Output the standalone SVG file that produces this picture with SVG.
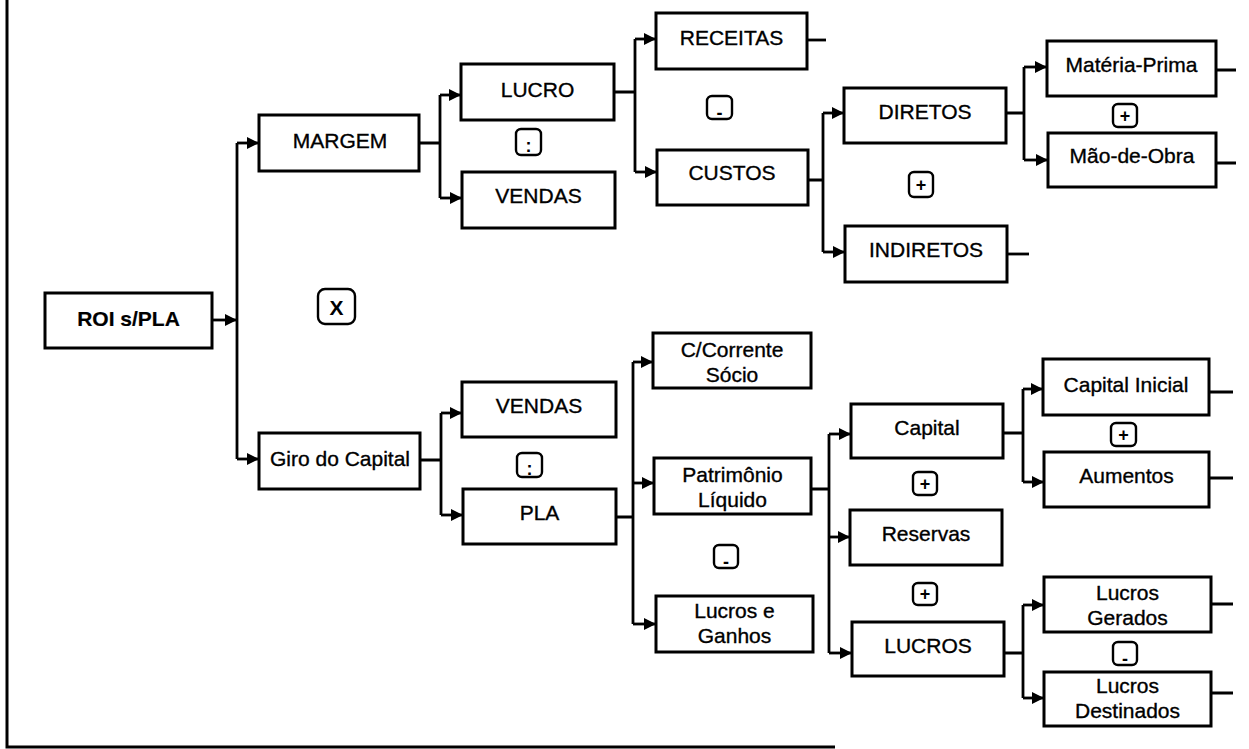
<svg xmlns="http://www.w3.org/2000/svg" width="1249" height="749" viewBox="0 0 1249 749">
<style>
.box{fill:#fff;stroke:#000;stroke-width:3}
.sym{fill:#fff;stroke:#000;stroke-width:2.4}
.t{font-family:"Liberation Sans",Arial,sans-serif;font-size:21px;fill:#000;stroke:#000;stroke-width:0.35;text-anchor:middle}
.b{font-weight:bold;stroke-width:0.2}
.s{font-family:"Liberation Sans",Arial,sans-serif;font-size:18px;font-weight:bold;fill:#000;text-anchor:middle}
.c{fill:none;stroke:#000;stroke-width:2.8}
.a{fill:none;stroke:#000;stroke-width:2.8;marker-end:url(#ah)}
</style>
<defs>
<marker id="ah" markerUnits="userSpaceOnUse" markerWidth="13" markerHeight="13" refX="12" refY="6.5" orient="auto">
<path d="M0,0.5 L12,6.5 L0,12.5 z" fill="#000"/>
</marker>
</defs>
<rect width="1249" height="749" fill="#fff"/>
<path d="M7,0 V747 H835" fill="none" stroke="#000" stroke-width="3"/>

<g id="connectors">
<path class="a" d="M212,320 H237"/>
<path class="c" d="M237,143 V459"/>
<path class="a" d="M237,143 H259"/>
<path class="a" d="M237,459 H259"/>

<path class="c" d="M419,143 H440 M440,95 V198"/>
<path class="a" d="M440,95 H461"/>
<path class="a" d="M440,198 H462"/>

<path class="c" d="M614,92 H635 M635,39 V172"/>
<path class="a" d="M635,39 H656"/>
<path class="a" d="M635,172 H657"/>
<path class="c" d="M807,40 H826"/>

<path class="c" d="M808,180 H823 M823,113 V252"/>
<path class="a" d="M823,113 H844"/>
<path class="a" d="M823,252 H845"/>
<path class="c" d="M1007,254 H1029"/>

<path class="c" d="M1006,113 H1024 M1024,67 V160"/>
<path class="a" d="M1024,67 H1047"/>
<path class="a" d="M1024,160 H1048"/>
<path class="c" d="M1216,70 H1236 M1216,163 H1236"/>

<path class="c" d="M420,460 H441 M441,413 V515"/>
<path class="a" d="M441,413 H462"/>
<path class="a" d="M441,515 H463"/>

<path class="c" d="M616,517 H633 M633,362 V624"/>
<path class="a" d="M633,362 H653"/>
<path class="a" d="M633,483 H654"/>
<path class="a" d="M633,624 H656"/>

<path class="c" d="M811,489 H829 M829,434 V653"/>
<path class="a" d="M829,434 H851"/>
<path class="a" d="M829,537 H850"/>
<path class="a" d="M829,653 H852"/>

<path class="c" d="M1003,433 H1023 M1023,389 V482"/>
<path class="a" d="M1023,389 H1043"/>
<path class="a" d="M1023,482 H1044"/>
<path class="c" d="M1209,392 H1233 M1209,478 H1233"/>

<path class="c" d="M1004,653 H1023 M1023,605 V698"/>
<path class="a" d="M1023,605 H1044"/>
<path class="a" d="M1023,698 H1044"/>
<path class="c" d="M1211,604 H1233 M1211,693 H1233"/>
</g>

<g id="roi"><rect class="box" x="45" y="293" width="167" height="55"/><text class="t b" x="128.5" y="326">ROI s/PLA</text></g>
<g id="margem"><rect class="box" x="259" y="115" width="160" height="56"/><text class="t" x="340" y="148">MARGEM</text></g>
<g id="giro"><rect class="box" x="259" y="433" width="161" height="56"/><text class="t" x="340" y="466">Giro do Capital</text></g>
<g id="lucro"><rect class="box" x="461" y="64" width="153" height="56"/><text class="t" x="537.5" y="97">LUCRO</text></g>
<g id="vendas1"><rect class="box" x="462" y="172" width="153" height="56"/><text class="t" x="538.5" y="203">VENDAS</text></g>
<g id="receitas"><rect class="box" x="656" y="13" width="151" height="56"/><text class="t" x="731.5" y="45">RECEITAS</text></g>
<g id="custos"><rect class="box" x="657" y="150" width="151" height="55"/><text class="t" x="732" y="180">CUSTOS</text></g>
<g id="diretos"><rect class="box" x="844" y="88" width="162" height="55"/><text class="t" x="925" y="119">DIRETOS</text></g>
<g id="indiretos"><rect class="box" x="845" y="226" width="162" height="56"/><text class="t" x="926" y="257">INDIRETOS</text></g>
<g id="materia-prima"><rect class="box" x="1047" y="41" width="169" height="55"/><text class="t" x="1131.5" y="72">Matéria-Prima</text></g>
<g id="mao-de-obra"><rect class="box" x="1048" y="133" width="168" height="54"/><text class="t" x="1132" y="163">Mão-de-Obra</text></g>
<g id="vendas2"><rect class="box" x="462" y="382" width="154" height="55"/><text class="t" x="539" y="413">VENDAS</text></g>
<g id="pla"><rect class="box" x="463" y="489" width="153" height="55"/><text class="t" x="539.5" y="520">PLA</text></g>
<g id="ccorrente"><rect class="box" x="653" y="333" width="158" height="55"/><text class="t" x="732" y="357">C/Corrente</text><text class="t" x="732" y="382">Sócio</text></g>
<g id="patrimonio"><rect class="box" x="654" y="458" width="157" height="56"/><text class="t" x="732.5" y="482">Patrimônio</text><text class="t" x="732.5" y="507">Líquido</text></g>
<g id="lucros-ganhos"><rect class="box" x="656" y="596" width="157" height="56"/><text class="t" x="734.5" y="618">Lucros e</text><text class="t" x="734.5" y="643">Ganhos</text></g>
<g id="capital"><rect class="box" x="851" y="404" width="152" height="54"/><text class="t" x="927" y="435">Capital</text></g>
<g id="reservas"><rect class="box" x="850" y="510" width="152" height="55"/><text class="t" x="926" y="541">Reservas</text></g>
<g id="lucros"><rect class="box" x="852" y="622" width="152" height="54"/><text class="t" x="928" y="653">LUCROS</text></g>
<g id="capital-inicial"><rect class="box" x="1043" y="359" width="166" height="56"/><text class="t" x="1126" y="392">Capital Inicial</text></g>
<g id="aumentos"><rect class="box" x="1044" y="452" width="165" height="55"/><text class="t" x="1126.5" y="483">Aumentos</text></g>
<g id="lucros-gerados"><rect class="box" x="1044" y="577" width="167" height="55"/><text class="t" x="1127.5" y="600">Lucros</text><text class="t" x="1127.5" y="625">Gerados</text></g>
<g id="lucros-destinados"><rect class="box" x="1044" y="672" width="167" height="54"/><text class="t" x="1127.5" y="693">Lucros</text><text class="t" x="1127.5" y="718">Destinados</text></g>

<g id="operators">
<rect class="sym" x="318" y="289" width="37" height="35" rx="7"/><text class="s" x="336.5" y="315" style="font-size:21px">X</text>
<rect class="sym" x="516" y="129" width="25" height="26" rx="5"/><text class="s" x="528.5" y="152">:</text>
<rect class="sym" x="707" y="96" width="25" height="23" rx="5"/><text class="s" x="719.5" y="119">-</text>
<rect class="sym" x="909" y="172" width="24" height="25" rx="5"/><text class="s" x="921" y="190.5">+</text>
<rect class="sym" x="1113" y="104" width="24" height="23" rx="5"/><text class="s" x="1125" y="121.5">+</text>
<rect class="sym" x="517" y="453" width="25" height="24" rx="5"/><text class="s" x="529.5" y="475">:</text>
<rect class="sym" x="714" y="545" width="24" height="23" rx="5"/><text class="s" x="726" y="568">-</text>
<rect class="sym" x="913" y="472" width="24" height="23" rx="5"/><text class="s" x="925" y="489.5">+</text>
<rect class="sym" x="913" y="583" width="24" height="22" rx="5"/><text class="s" x="925" y="600">+</text>
<rect class="sym" x="1111" y="423" width="25" height="23" rx="5"/><text class="s" x="1123.5" y="440.5">+</text>
<rect class="sym" x="1113" y="642" width="24" height="23" rx="5"/><text class="s" x="1125" y="665">-</text>
</g>
</svg>
